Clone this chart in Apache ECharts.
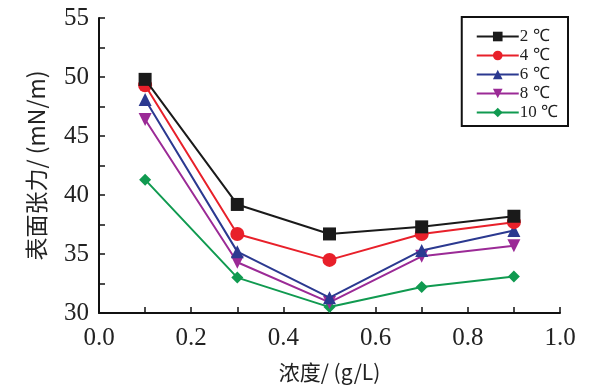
<!DOCTYPE html>
<html><head><meta charset="utf-8">
<script src="https://cdn.jsdelivr.net/npm/echarts@6/dist/echarts.min.js"></script>
<style>html,body{margin:0;padding:0;background:#fff}#c{width:593px;height:389px}</style>
</head><body><div id="c"></div>
<script>
const xVals = [0.1, 0.3, 0.5, 0.7, 0.9];
const seriesNames = ['2 ℃', '4 ℃', '6 ℃', '8 ℃', '10 ℃'];
const t2 = [49.8, 39.2, 36.7, 37.3, 38.2];
const t4 = [49.3, 36.7, 34.5, 36.7, 37.7];
const t6 = [48.1, 35.2, 31.3, 35.3, 37.0];
const t8 = [46.4, 34.3, 30.9, 34.8, 35.7];
const t10 = [41.3, 33.0, 30.5, 32.2, 33.1];
const yTicks = [30, 35, 40, 45, 50, 55];
const xTicks = [0.0, 0.2, 0.4, 0.6, 0.8, 1.0];

const colors = ['#1a1a1a', '#e8202a', '#2b3990', '#9b2a96', '#109a50'];
const symbols = ['rect', 'circle', 'triangle', 'path://M0,0 L10,0 L5,10 Z', 'diamond'];
const sizes = [13, 14, 13, 13, 12];
const data = [t2, t4, t6, t8, t10];
const serif = 'Liberation Serif, Times New Roman, Times, serif';
const sans = 'Noto Sans CJK SC, sans-serif';

const chart = echarts.init(document.getElementById('c'));
chart.setOption({
  animation: false,
  grid: {left: 99, right: 33, top: 18, bottom: 76, containLabel: false},
  legend: {
    orient: 'vertical', right: 25, top: 17,
    borderColor: '#111', borderWidth: 2, padding: [11, 10, 5, 14],
    itemWidth: 42, itemHeight: 12, itemGap: 2,
    textStyle: {fontFamily: serif, fontSize: 17, color: '#222', padding: [0, 0, 0, -4]},
    data: seriesNames
  },
  xAxis: {
    type: 'value', min: 0, max: 1, interval: 0.2,
    name: '浓度/ (g/L)', nameLocation: 'middle', nameGap: 49,
    nameTextStyle: {fontFamily: sans, fontSize: 21, color: '#222'},
    axisLine: {lineStyle: {color: '#111', width: 2}},
    axisTick: {inside: true, length: 6, lineStyle: {width: 1.5}},
    minorTick: {show: true, splitNumber: 2, length: 6, lineStyle: {color: '#111', width: 1.5}},
    splitLine: {show: false},
    axisLabel: {fontFamily: serif, fontSize: 25, color: '#222', margin: 13,
      formatter: v => v.toFixed(1)}
  },
  yAxis: {
    type: 'value', min: 30, max: 55, interval: 5,
    name: '表面张力/ (mN/m)', nameLocation: 'middle', nameGap: 51, nameRotate: 90,
    nameTextStyle: {fontFamily: sans, fontSize: 23, color: '#222'},
    axisLine: {show: true, lineStyle: {color: '#111', width: 2}},
    axisTick: {show: true, inside: true, length: 6, lineStyle: {width: 1.5}},
    minorTick: {show: true, splitNumber: 2, length: 6, lineStyle: {color: '#111', width: 1.5}},
    splitLine: {show: false},
    axisLabel: {fontFamily: serif, fontSize: 25, color: '#222', margin: 10}
  },
  series: seriesNames.map((n, i) => ({
    name: n, type: 'line',
    data: xVals.map((x, j) => [x, data[i][j]]),
    symbol: symbols[i], symbolSize: sizes[i],
    lineStyle: {color: colors[i], width: 2},
    itemStyle: {color: colors[i]},
    z: 10 - i
  }))
});
</script></body></html>
